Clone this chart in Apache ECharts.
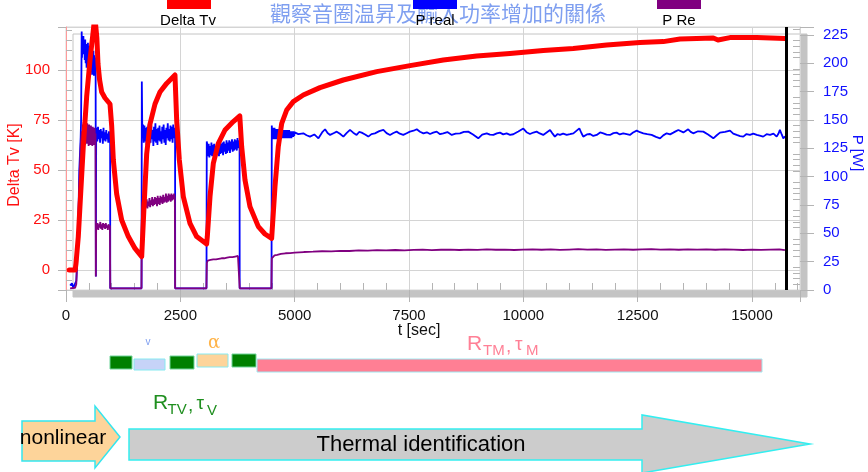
<!DOCTYPE html>
<html>
<head>
<meta charset="utf-8">
<script src="https://cdn.jsdelivr.net/npm/echarts@6/dist/echarts.min.js"></script>
<style>
  html, body { margin: 0; padding: 0; background: #ffffff; }
  #main { width: 868px; height: 472px; }
</style>
</head>
<body>
<div id="main"></div>
<script>
// ---- logged data -----------------------------------------------------------
const titleText = '觀察音圈温昇及輸入功率增加的關係';
const seriesNames = ['Delta Tv', 'P real', 'P Re'];

// voice-coil temperature rise [s, K]
const deltaTv = [
  [70,0],[200,0],[219,3.3],[269,16.7],[321,38.3],[378,61.7],[452,86.7],[525,105],[598,120],
  [630,127],[660,127],[675,116],[700,103],[735,95],[780,89],[853,86],[962,83],
  [999,72],[1035,55],[1108,38],[1217,25],[1363,16.7],[1509,10.8],[1655,6.7],
  [1706,31.7],[1764,58],[1837,73],[1946,83],[2055,89],[2201,93.3],[2383,97.5],
  [2420,75],[2478,55],[2565,36.7],[2711,23.3],[2857,16.7],[3075,13],
  [3090,16.7],[3149,36.7],[3221,53.3],[3331,63.3],[3477,70],[3658,74.2],[3800,77],
  [3841,61.7],[3914,45],[4023,31.7],[4206,21.7],[4350,18],[4497,15.8],
  [4570,41.7],[4642,61.7],[4717,73.3],[4826,80],[4970,84.2],[5189,87.5],[5554,91.2],
  [6063,95],[6794,99.2],[7522,102.2],[8250,105],[8980,107],[9708,108.3],[10437,109.7],
  [11093,110.8],[11823,112.5],[12551,113.7],[13061,114.2],[13426,115.5],[14154,116],
  [14257,115],[14519,116.2],[15103,116.2],[15722,115.8]
];

// real input power [s, W]
const pReal = [
  [90,4],[130,6],[160,2],[200,3],[225,8],[233,15],[270,62],[291,106],[321,135],[330,150],[343,228],
  [350,205],[360,222],[370,208],[380,224],[390,210],[400,219],[410,203],[420,221],[430,200],[440,217],
  [450,196],[460,214],[470,199],[480,218],[490,195],[500,212],[510,197],[520,215],[530,194],[540,210],
  [550,192],[560,213],[570,190],[580,209],[590,193],[600,211],[610,189],[620,207],[630,191],[640,205],
  [648,195],[653,12],[660,140],
  [670,143],[685,131],[700,144],[715,133],[730,141],[745,130],[760,142],[775,134],[790,140],[805,129],
  [820,143],[835,132],[850,139],[865,131],[880,141],[895,133],[910,138],[925,130],[940,140],[955,132],
  [965,137],[968,1.5],[1652,1.5],
  [1655,1.5],[1658,184],[1668,140],
  [1685,146],[1700,130],[1715,145],[1730,131],[1745,143],[1760,128],[1775,144],[1790,132],[1805,146],
  [1820,129],[1835,142],[1850,130],[1865,145],[1880,133],[1895,141],[1910,127],[1925,144],[1940,131],
  [1955,147],[1970,130],[1985,142],[2000,128],[2015,143],[2030,132],[2045,145],[2060,131],[2075,140],
  [2090,129],[2105,144],[2120,133],[2135,146],[2150,130],[2165,141],[2180,128],[2195,143],[2210,134],
  [2225,147],[2240,132],[2255,142],[2270,131],[2285,145],[2300,133],[2315,144],[2330,130],[2345,146],
  [2360,134],[2375,143],[2385,138],[2388,1.5],[3072,1.5],
  [3075,1.5],[3078,131],
  [3090,128],[3105,118],[3120,129],[3135,117],[3150,127],[3165,119],[3180,130],[3195,118],[3210,128],
  [3225,120],[3240,129],[3255,117],[3270,127],[3285,119],[3300,130],[3315,121],[3330,128],[3345,118],
  [3360,131],[3375,120],[3390,129],[3405,121],[3420,130],[3435,119],[3450,131],[3465,122],[3480,129],
  [3495,120],[3510,132],[3525,121],[3540,130],[3555,123],[3570,132],[3585,121],[3600,131],[3615,124],
  [3630,133],[3645,122],[3660,131],[3675,123],[3690,133],[3705,124],[3720,132],[3735,123],[3750,134],
  [3765,125],[3780,132],[3795,127],[3798,1.5],[4494,1.5],
  [4497,1.5],[4500,145],
  [4510,135],[4520,143],[4530,133],[4540,142],[4550,134],[4560,143],[4570,133],[4580,141],[4590,134],
  [4600,142],[4610,133],[4620,141],[4630,135],[4640,142],[4650,134],[4660,141],[4670,133],[4680,140],
  [4690,134],[4700,142],[4710,135],[4720,141],[4730,134],[4740,140],[4750,135],[4760,141],[4770,134],
  [4780,140],[4790,135],[4800,141],[4810,134],[4820,140],[4830,136],[4840,141],[4850,134],[4860,139],
  [4870,135],[4880,141],[4890,134],[4900,140],[4910,135],[4920,139],[4930,134],[4940,140],[4950,136],
  [4960,139],[4970,135],[4980,140],[4990,136],[5000,139],
  [5080,137.5],[5190,138.2],[5260,136.5],[5335,135.3],[5430,137.2],[5520,133.8],[5600,139],[5665,141.8],
  [5720,138.5],[5775,136.8],[5850,138.3],[5920,139.7],[5990,137.8],[6065,135.3],[6140,138.6],[6210,141.2],
  [6280,138.8],[6355,136.8],[6410,139.4],[6465,138.8],[6540,137.2],[6610,135.3],[6680,137.5],[6755,138.2],
  [6850,140.1],[6940,141.2],[7010,138.4],[7085,136.8],[7160,138.5],[7230,139.7],[7300,137.9],[7375,136.8],
  [7450,138.3],[7520,139.7],[7600,140.5],[7670,141.8],[7740,139.6],[7815,138.2],[7890,139.1],[7960,137.6],
  [8030,138.8],[8105,139.7],[8180,137.4],[8250,138.2],[8340,139.3],[8435,136.8],[8520,137.9],[8615,138.2],
  [8700,139.5],[8795,139.7],[8900,137.2],[9015,133.8],[9100,137.1],[9200,138.2],[9270,137.0],[9345,136.8],
  [9420,138.1],[9490,138.8],[9560,137.3],[9635,138.2],[9710,136.9],[9780,137.4],[9890,139.8],[10000,142.4],
  [10070,139.2],[10145,137.6],[10220,138.9],[10290,139.7],[10360,138.1],[10435,136.8],[10510,139.0],
  [10585,141.2],[10640,137.9],[10690,135.3],[10750,137.6],[10800,136.8],[10870,138.0],[10950,136.8],
  [11020,137.4],[11095,138.2],[11160,140.4],[11225,142.6],[11270,138.5],[11310,135.3],[11390,137.2],
  [11460,137.6],[11530,135.9],[11605,136.8],[11680,139.0],[11750,138.2],[11820,137.1],[11895,136.8],
  [11970,138.4],[12040,138.8],[12110,137.2],[12185,138.2],[12260,137.5],[12330,136.8],[12400,138.9],
  [12480,140.6],[12550,139.2],[12625,138.2],[12710,137.5],[12805,136.8],[12900,135.1],[12990,133.8],
  [13060,136.4],[13135,138.2],[13210,137.3],[13280,138.8],[13330,139.9],[13390,141.2],[13500,139.0],
  [13605,141.8],[13660,139.5],[13715,138.2],[13820,140.0],[13935,139.7],[14040,137.1],[14155,133.8],
  [14230,136.5],[14300,138.8],[14410,139.5],[14520,140.6],[14590,138.0],[14665,136.8],[14740,135.7],
  [14810,135.3],[14880,137.6],[14955,136.8],[15030,137.9],[15105,136.8],[15170,136.2],[15245,135.3],
  [15320,137.4],[15395,136.8],[15470,137.9],[15540,135.3],[15580,138.0],[15610,141.2],[15650,137.2],
  [15685,133.8],[15722,135.5]
];

// power dissipated in Re [s, W]
const pRe = [
  [90,1.5],[200,2],[225,5],[250,30],[275,70],[300,105],[325,130],[345,140],
  [355,132],[365,146],[375,129],[385,148],[395,131],[405,145],[415,128],[425,150],[435,133],[445,144],
  [455,129],[465,147],[475,131],[485,143],[495,127],[505,146],[515,132],[525,141],[535,128],[545,145],
  [555,130],[565,142],[575,127],[585,144],[595,131],[605,140],[615,128],[625,143],[635,130],[645,138],
  [652,12],[660,56],
  [675,54],[690,59],[705,53],[720,58],[735,55],[750,60],[765,54],[780,58],[795,53],[810,59],[825,55],
  [840,58],[855,54],[870,59],[885,55],[900,57],[915,53],[930,58],[945,55],[960,57],[968,1.5],[1650,1.5],
  [1655,1.5],[1660,73],
  [1675,78],[1690,71],[1705,79],[1720,72],[1735,77],[1750,73],[1765,80],[1780,72],[1795,78],[1810,74],
  [1825,81],[1840,73],[1855,79],[1870,75],[1885,82],[1900,74],[1915,80],[1930,75],[1945,82],[1960,76],
  [1975,81],[1990,74],[2005,83],[2020,76],[2035,81],[2050,75],[2065,83],[2080,77],[2095,82],[2110,76],
  [2125,84],[2140,77],[2155,82],[2170,78],[2185,85],[2200,77],[2215,83],[2230,78],[2245,85],[2260,79],
  [2275,84],[2290,78],[2305,85],[2320,79],[2335,84],[2350,80],[2365,85],[2380,81],[2386,1.5],[3070,1.5],
  [3075,1.5],[3080,24],
  [3100,26],[3130,24.5],[3160,26.5],[3190,25],[3220,27],[3250,25.5],[3280,27],[3310,26],[3340,27.5],
  [3370,26],[3400,28],[3430,26.5],[3460,28],[3490,27],[3520,28.5],[3550,27.5],[3580,29],[3610,27.5],
  [3640,29],[3670,28],[3700,29.5],[3730,28.5],[3760,30],[3790,29],[3798,1.5],[4492,1.5],
  [4497,1.5],[4500,28],[4520,29.5],[4560,30.5],[4620,31],[4700,31.8],[4800,32.4],[4900,32.6],[5000,33],
  [5200,33.5],[5400,33.8],[5600,34.2],[5800,34.1],[6000,34.6],[6200,34.4],[6400,34.9],[6600,34.7],
  [6800,35.2],[7000,34.9],[7200,35.3],[7400,35.0],[7600,35.4],[7800,35.6],[8000,35.2],[8200,35.5],
  [8400,35.7],[8600,35.3],[8800,35.6],[9000,35.4],[9200,35.8],[9400,35.5],[9600,35.7],[9800,35.3],
  [10000,35.6],[10200,35.9],[10400,35.5],[10600,35.8],[10800,35.4],[11000,35.7],[11200,36.0],[11400,35.6],
  [11600,35.8],[11800,35.4],[12000,35.7],[12200,35.9],[12400,35.5],[12600,35.8],[12800,36.1],[13000,35.6],
  [13200,35.9],[13400,35.5],[13600,35.8],[13800,35.6],[14000,35.9],[14200,35.5],[14400,35.8],[14600,35.6],
  [14800,35.3],[15000,35.7],[15200,35.4],[15400,35.6],[15600,35.8],[15720,35.2]
];

const endMarkerTime = 15745;            // end of logging [s]
const timeRange = [0, 16050];
const timeStep = 2500;
const tvRange = [-10, 121.5];
const tvStep = 25;
const powerRange = [0, 232];
const powerStep = 25;

// ---- chart -------------------------------------------------------------------
const LATIN = '"Liberation Sans", Arial, sans-serif';
const chart = echarts.init(document.getElementById('main'), null, { renderer: 'canvas' });

const hideOffStep = step => v => (Math.abs(v / step - Math.round(v / step)) < 1e-6 ? String(v) : '');

const tickGray = '#b4b4b4';

chart.setOption({
  animation: false,
  backgroundColor: '#ffffff',
  title: {
    text: titleText,
    left: 265,
    top: -2,
    z: 1,
    textStyle: { color: '#7f9ff0', fontSize: 21, fontWeight: 'normal', fontFamily: '"Noto Sans CJK TC", sans-serif' }
  },
  grid: {
    left: 66, top: 27, width: 734, height: 263,
    show: true,
    backgroundColor: '#ffffff',
    borderColor: '#d6d6d6',
    borderWidth: 1,
    shadowColor: '#c4c4c4',
    shadowBlur: 0,
    shadowOffsetX: 7,
    shadowOffsetY: 7
  },
  xAxis: {
    type: 'value',
    min: timeRange[0], max: timeRange[1], interval: timeStep,
    axisLine: { show: true, onZero: false, lineStyle: { color: '#c8c8c8' } },
    axisTick: { show: true, length: 12, lineStyle: { color: tickGray } },
    minorTick: { show: true, splitNumber: 5, length: -7, lineStyle: { color: tickGray } },
    axisLabel: { margin: 18, color: '#111', fontSize: 15, fontFamily: LATIN, formatter: hideOffStep(timeStep) },
    splitLine: { show: true, lineStyle: { color: '#d4d4d4' } }
  },
  yAxis: [
    {
      type: 'value', position: 'left',
      min: tvRange[0], max: tvRange[1], minInterval: tvStep, maxInterval: tvStep,
      axisLine: { show: true, onZero: false, lineStyle: { color: '#ff9a9a' } },
      axisTick: { show: true, length: 8, lineStyle: { color: tickGray } },
      minorTick: { show: true, splitNumber: 5, length: -6, lineStyle: { color: tickGray } },
      axisLabel: { margin: 16, color: '#ff1010', fontSize: 15, fontFamily: LATIN, formatter: hideOffStep(tvStep) },
      splitLine: { show: true, lineStyle: { color: '#d4d4d4' } }
    },
    {
      type: 'value', position: 'right',
      min: powerRange[0], max: powerRange[1], interval: powerStep,
      axisLine: { show: true, onZero: false, lineStyle: { color: '#d6d6d6' } },
      axisTick: { show: true, length: 14, lineStyle: { color: tickGray } },
      minorTick: { show: true, splitNumber: 5, length: -7, lineStyle: { color: tickGray } },
      axisLabel: { margin: 23, color: '#1010ff', fontSize: 15, fontFamily: LATIN, formatter: hideOffStep(powerStep) },
      splitLine: { show: false }
    }
  ],
  series: [
    {
      name: seriesNames[1], type: 'line', yAxisIndex: 1, data: pReal,
      showSymbol: false, symbol: 'none', z: 2,
      lineStyle: { color: '#0000ff', width: 1.8 }
    },
    {
      name: seriesNames[2], type: 'line', yAxisIndex: 1, data: pRe,
      showSymbol: false, symbol: 'none', z: 3,
      lineStyle: { color: '#800080', width: 1.8 }
    },
    {
      name: seriesNames[0], type: 'line', yAxisIndex: 0, data: deltaTv,
      showSymbol: false, symbol: 'none', z: 4,
      lineStyle: { color: '#ff0000', width: 5, join: 'round', cap: 'round' },
      markLine: {
        silent: true, symbol: ['none', 'none'], label: { show: false },
        lineStyle: { color: '#000000', width: 3, type: 'solid' },
        data: [{ xAxis: endMarkerTime }]
      }
    }
  ],
  graphic: [
    // legend
    { type: 'rect', z: 10, shape: { x: 167, y: 0, width: 44, height: 9 }, style: { fill: '#ff0000' } },
    { type: 'text', z: 10, x: 188, y: 21, style: { text: seriesNames[0], fill: '#000', fontSize: 15, fontFamily: LATIN, align: 'center', verticalAlign: 'middle' } },
    { type: 'rect', z: 10, shape: { x: 413, y: 0, width: 44, height: 9 }, style: { fill: '#0000ff' } },
    { type: 'text', z: 10, x: 435, y: 21, style: { text: seriesNames[1], fill: '#000', fontSize: 15, fontFamily: LATIN, align: 'center', verticalAlign: 'middle' } },
    { type: 'rect', z: 10, shape: { x: 657, y: 0, width: 44, height: 9 }, style: { fill: '#800080' } },
    { type: 'text', z: 10, x: 679, y: 21, style: { text: seriesNames[2], fill: '#000', fontSize: 15, fontFamily: LATIN, align: 'center', verticalAlign: 'middle' } },

    // axis titles
    { type: 'text', z: 10, x: 15, y: 165, rotation: Math.PI / 2, style: { text: 'Delta Tv [K]', fill: '#ff1010', fontSize: 16, fontFamily: LATIN, align: 'center', verticalAlign: 'middle' } },
    { type: 'text', z: 10, x: 857, y: 153, rotation: -Math.PI / 2, style: { text: 'P [W]', fill: '#1010ff', fontSize: 15, fontFamily: LATIN, align: 'center', verticalAlign: 'middle' } },
    { type: 'text', z: 10, x: 419, y: 331, style: { text: 't [sec]', fill: '#111', fontSize: 16, fontFamily: LATIN, align: 'center', verticalAlign: 'middle' } },

    // identification phases
    { type: 'rect', z: 10, shape: { x: 110, y: 356, width: 22, height: 13 }, style: { fill: '#008000', stroke: '#6fd49a', lineWidth: 1 } },
    { type: 'rect', z: 10, shape: { x: 134, y: 359, width: 31, height: 11 }, style: { fill: '#c6d3f8', stroke: '#86eaf0', lineWidth: 1 } },
    { type: 'rect', z: 10, shape: { x: 170, y: 356, width: 24, height: 13 }, style: { fill: '#008000', stroke: '#6fd49a', lineWidth: 1 } },
    { type: 'rect', z: 10, shape: { x: 197, y: 354, width: 31, height: 13 }, style: { fill: '#fdd49a', stroke: '#86eaf0', lineWidth: 1 } },
    { type: 'rect', z: 10, shape: { x: 232, y: 354, width: 24, height: 13 }, style: { fill: '#008000', stroke: '#6fd49a', lineWidth: 1 } },
    { type: 'rect', z: 10, shape: { x: 257, y: 359, width: 505, height: 13 }, style: { fill: '#ff7f94', stroke: '#a0e8f0', lineWidth: 1 } },
    { type: 'text', z: 10, x: 148, y: 342, style: { text: 'v', fill: '#7f9ff0', fontSize: 10, fontFamily: LATIN, align: 'center', verticalAlign: 'middle' } },
    { type: 'text', z: 10, x: 214, y: 343, style: { text: 'α', fill: '#ffb347', fontSize: 18, fontFamily: '"DejaVu Serif", serif', align: 'center', verticalAlign: 'middle' } },

    // R_TM, tau_M
    { type: 'text', z: 10, x: 467, y: 344, style: { text: 'R', fill: '#ff8096', fontSize: 21, fontFamily: LATIN, verticalAlign: 'middle' } },
    { type: 'text', z: 10, x: 483, y: 350.5, style: { text: 'TM', fill: '#ff8096', fontSize: 15, fontFamily: LATIN, verticalAlign: 'middle' } },
    { type: 'text', z: 10, x: 506, y: 347, style: { text: ',', fill: '#ff8096', fontSize: 19, fontFamily: LATIN, verticalAlign: 'middle' } },
    { type: 'text', z: 10, x: 515, y: 345, style: { text: 'τ', fill: '#ff8096', fontSize: 19, fontFamily: LATIN, verticalAlign: 'middle' } },
    { type: 'text', z: 10, x: 526, y: 350.5, style: { text: 'M', fill: '#ff8096', fontSize: 15, fontFamily: LATIN, verticalAlign: 'middle' } },

    // R_TV, tau_V
    { type: 'text', z: 10, x: 153, y: 403, style: { text: 'R', fill: '#1f8f1f', fontSize: 21, fontFamily: LATIN, verticalAlign: 'middle' } },
    { type: 'text', z: 10, x: 167.5, y: 410, style: { text: 'TV', fill: '#1f8f1f', fontSize: 15, fontFamily: LATIN, verticalAlign: 'middle' } },
    { type: 'text', z: 10, x: 188, y: 406, style: { text: ',', fill: '#1f8f1f', fontSize: 19, fontFamily: LATIN, verticalAlign: 'middle' } },
    { type: 'text', z: 10, x: 196.5, y: 404, style: { text: 'τ', fill: '#1f8f1f', fontSize: 19, fontFamily: LATIN, verticalAlign: 'middle' } },
    { type: 'text', z: 10, x: 207, y: 411, style: { text: 'V', fill: '#1f8f1f', fontSize: 15, fontFamily: LATIN, verticalAlign: 'middle' } },

    // process arrows
    { type: 'polygon', z: 10, shape: { points: [[22,421],[95,421],[95,406],[120,437],[95,468],[95,461],[22,461]] },
      style: { fill: '#fdd49a', stroke: '#33e6f0', lineWidth: 1.5 } },
    { type: 'text', z: 11, x: 63, y: 438, style: { text: 'nonlinear', fill: '#000', fontSize: 21, fontFamily: LATIN, align: 'center', verticalAlign: 'middle' } },
    { type: 'polygon', z: 10, shape: { points: [[129,429],[642,429],[642,415],[810,444],[642,473],[642,460],[129,460]] },
      style: { fill: '#cccccc', stroke: '#33eef0', lineWidth: 1.5 } },
    { type: 'text', z: 11, x: 421, y: 445, style: { text: 'Thermal identification', fill: '#000', fontSize: 22, fontFamily: LATIN, align: 'center', verticalAlign: 'middle' } }
  ]
});
</script>
</body>
</html>
